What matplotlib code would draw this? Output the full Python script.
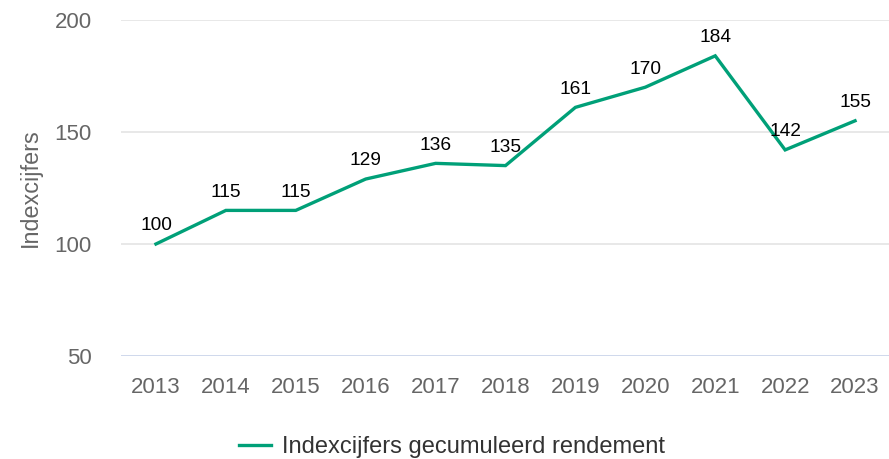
import matplotlib
matplotlib.use("Agg")
import matplotlib.pyplot as plt

years = ["2013", "2014", "2015", "2016", "2017", "2018", "2019", "2020", "2021", "2022", "2023"]
values = [100, 115, 115, 129, 136, 135, 161, 170, 184, 142, 155]
yticks = [50, 100, 150, 200]
series_name = "Indexcijfers gecumuleerd rendement"
y_label = "Indexcijfers"

plt.rcParams['font.family'] = ['Liberation Sans', 'DejaVu Sans']

W, H = 889, 459
fig = plt.figure(figsize=(W / 100, H / 100), dpi=100)
ax = fig.add_axes([121 / W, 1 - 356 / H, (890 - 121) / W, (356 - 20) / H])

green = '#00a078'
x = list(range(len(years)))
line, = ax.plot(x, values, color=green, lw=2.4, solid_joinstyle='miter', label=series_name, zorder=3)

for xi, v in zip(x, values):
    ax.annotate(str(v), (xi, v), xytext=(0, 13), textcoords='offset points',
                ha='center', va='center', fontsize=13.8, color='#000000', zorder=4)

ax.set_xlim(-0.5, len(years) - 0.5)
ax.set_ylim(50, 200)
ax.set_yticks(yticks)
ax.set_xticks(x)
ax.set_xticklabels(years)

for t in yticks:
    ax.axhline(t, color='#ccd6eb' if t == 50 else '#e6e6e6', lw=1.3, zorder=1)

for s in ax.spines.values():
    s.set_visible(False)
ax.tick_params(axis='both', length=0, labelsize=16, colors='#666666')
ax.tick_params(axis='y', pad=21)
ax.tick_params(axis='x', pad=15)
ax.set_ylabel(y_label, fontsize=16.8, color='#666666')
ax.yaxis.set_label_coords(-0.103, 0.5)

fig.legend(handles=[line], labels=[series_name], loc='center',
           bbox_to_anchor=(452 / W, 1 - 447 / H), frameon=False,
           fontsize=17, handlelength=1.35, handletextpad=0.5,
           labelcolor='#333333')

fig.savefig("out.png", dpi=100)
